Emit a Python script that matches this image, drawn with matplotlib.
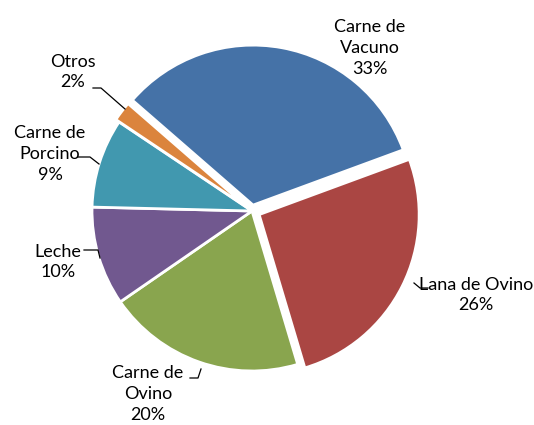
import numpy as np
import matplotlib.pyplot as plt

labels = ['Carne de\nVacuno', 'Lana de Ovino', 'Carne de\nOvino', 'Leche', 'Carne de\nPorcino', 'Otros']
values = [33, 26, 20, 10, 9, 2]
colors = ['#4572A7', '#AA4643', '#89A54E', '#71588F', '#4198AF', '#DB843D']
explode = [6, 8, 0, 0, 0, 4]   # pixel offsets, axes are in pixel units

plt.rcParams['font.family'] = ['Lato', 'DejaVu Sans']

fig = plt.figure(figsize=(5.34, 4.25), dpi=100)
ax = fig.add_axes([0, 0, 1, 1])

cx, cy, r = 252, 214, 160
wedges, _ = ax.pie(values, colors=colors, explode=explode, startangle=139, counterclock=False,
                   radius=r, center=(cx, cy), frame=True,
                   wedgeprops=dict(edgecolor='white', linewidth=2))
ax.set_xlim(0, 534)
ax.set_ylim(0, 425)
ax.set_aspect('equal')
ax.axis('off')

# label centres (x, y from top) and leader lines
label_pos = [(370, 48), (476, 295), (148, 394), (58, 262), (50, 154), (73, 72)]
line_pts = [None, [(428, 288), (420, 288), (414, 283)],
            [(190, 378), (198, 378), (201, 369)],
            [(84, 250), (98, 250), (100, 258)],
            [(78, 157), (90, 157), (99, 164)],
            [(93, 88), (101, 88), (125, 109)]]

for lab, v, (tx, ty), pts in zip(labels, values, label_pos, line_pts):
    ax.text(tx, 425 - ty, f'{lab}\n{v}%', ha='center', va='center', fontsize=13,
            linespacing=1.35, color='#000000')
    if pts:
        xs = [p[0] for p in pts]
        ys = [425 - p[1] for p in pts]
        ax.plot(xs, ys, color='black', lw=0.9)

fig.savefig('out.png', dpi=100)
